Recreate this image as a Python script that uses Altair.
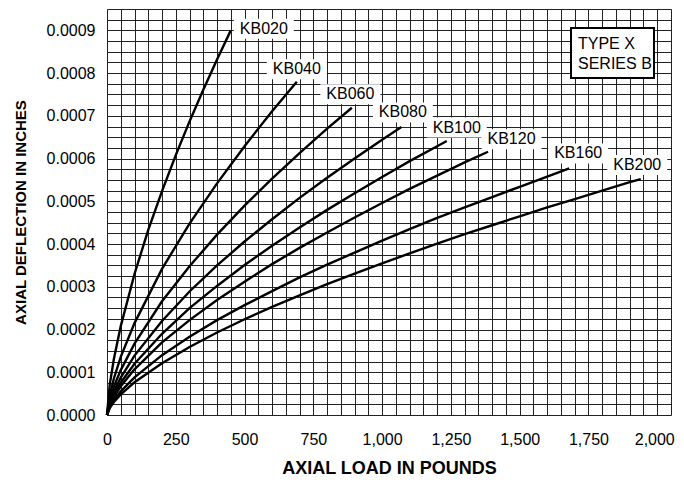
import altair as alt
import pandas as pd

# ---------------- data ----------------
series_names = ["KB020", "KB040", "KB060", "KB080", "KB100", "KB120", "KB160", "KB200"]

kb020_x = [0, 10, 25, 50, 100, 150, 200, 250, 300, 350, 400, 450]
kb020_y = [0, 0.0000711, 0.000131, 0.000208, 0.000330, 0.000433, 0.000524, 0.000608,
           0.000687, 0.000761, 0.000832, 0.000900]

kb040_x = [0, 10, 25, 50, 100, 200, 300, 400, 500, 600, 690]
kb040_y = [0, 0.0000464, 0.0000854, 0.000136, 0.000215, 0.000342, 0.000448, 0.000542,
           0.000629, 0.000711, 0.000780]

kb060_x = [0, 10, 25, 50, 100, 200, 300, 400, 500, 600, 700, 800, 890]
kb060_y = [0, 0.0000361, 0.0000664, 0.000105, 0.000167, 0.000266, 0.000348, 0.000422,
           0.000490, 0.000553, 0.000613, 0.000670, 0.000719]

kb080_x = [0, 10, 25, 50, 100, 200, 300, 400, 500, 600, 700, 800, 900, 1000, 1070]
kb080_y = [0, 0.0000299, 0.0000551, 0.0000874, 0.000139, 0.000220, 0.000289, 0.000350,
           0.000406, 0.000458, 0.000508, 0.000555, 0.000600, 0.000644, 0.000674]

kb100_x = [0, 10, 25, 50, 100, 200, 300, 400, 500, 600, 700, 800, 900, 1000, 1100, 1200, 1235]
kb100_y = [0, 0.0000258, 0.0000476, 0.0000756, 0.000120, 0.000190, 0.000250, 0.000302,
           0.000351, 0.000396, 0.000439, 0.000480, 0.000519, 0.000557, 0.000594, 0.000629,
           0.000641]

kb120_x = [0, 10, 25, 50, 100, 200, 300, 400, 500, 600, 700, 800, 900, 1000, 1100, 1200,
           1300, 1385]
kb120_y = [0, 0.0000230, 0.0000424, 0.0000673, 0.000107, 0.000170, 0.000222, 0.000269,
           0.000312, 0.000353, 0.000391, 0.000427, 0.000462, 0.000496, 0.000529, 0.000560,
           0.000591, 0.000616]

kb160_x = [0, 10, 25, 50, 100, 200, 300, 400, 500, 600, 700, 800, 900, 1000, 1100, 1200,
           1300, 1400, 1500, 1600, 1680]
kb160_y = [0, 0.0000189, 0.0000349, 0.0000554, 0.0000879, 0.000140, 0.000183, 0.000222,
           0.000257, 0.000290, 0.000322, 0.000352, 0.000380, 0.000408, 0.000435, 0.000461,
           0.000486, 0.000510, 0.000534, 0.000558, 0.000577]

kb200_x = [0, 10, 25, 50, 100, 200, 300, 400, 500, 600, 700, 800, 900, 1000, 1100, 1200,
           1300, 1400, 1500, 1600, 1700, 1800, 1900, 1940]
kb200_y = [0, 0.0000165, 0.0000304, 0.0000482, 0.0000765, 0.000121, 0.000159, 0.000193,
           0.000224, 0.000253, 0.000280, 0.000306, 0.000331, 0.000355, 0.000378, 0.000401,
           0.000423, 0.000444, 0.000465, 0.000486, 0.000505, 0.000525, 0.000545, 0.000552]

x_tick_labels = [0, 250, 500, 750, 1000, 1250, 1500, 1750, 2000]
y_tick_labels = [0.0, 0.0001, 0.0002, 0.0003, 0.0004, 0.0005, 0.0006, 0.0007, 0.0008, 0.0009]
box_lines = ["TYPE X", "SERIES B"]

# ---------------- layout / style ----------------
W, H = 564, 406
X_MAX, Y_MAX = 2050, 0.00095
PX_X = W / X_MAX
PX_Y = H / Y_MAX
FONT = "Liberation Sans"

# label centre offsets from the curve end, in pixels (dx right, dy down)
label_off = {
    "KB020": (33, -1.5), "KB040": (0, -12.5), "KB060": (-1.5, -13.5), "KB080": (1.5, -14.5),
    "KB100": (10, -13.5), "KB120": (23.5, -12.5), "KB160": (9, -15), "KB200": (-3.5, -14),
}

all_x = [kb020_x, kb040_x, kb060_x, kb080_x, kb100_x, kb120_x, kb160_x, kb200_x]
all_y = [kb020_y, kb040_y, kb060_y, kb080_y, kb100_y, kb120_y, kb160_y, kb200_y]

rows = []
for name, xs, ys in zip(series_names, all_x, all_y):
    for xv, yv in zip(xs, ys):
        rows.append({"series": name, "load": xv, "defl": yv})
df = pd.DataFrame(rows)

lab_rows = []
for name, xs, ys in zip(series_names, all_x, all_y):
    dx, dy = label_off[name]
    cx = xs[-1] + dx / PX_X
    cy = ys[-1] - dy / PX_Y
    lab_rows.append({
        "series": name, "load": cx, "defl": cy,
        "load2": cx + 30 / PX_X, "load1": cx - 30 / PX_X,
        "defl1": cy - 10 / PX_Y, "defl2": cy + 10 / PX_Y,
    })
labels = pd.DataFrame(lab_rows)

grid_x = [i * 50 for i in range(int(X_MAX / 50) + 1)]
grid_y = [round(i * 0.000025, 7) for i in range(int(round(Y_MAX / 0.000025)) + 1)]

x_scale = alt.Scale(domain=[0, X_MAX], nice=False, zero=False)
y_scale = alt.Scale(domain=[0, Y_MAX], nice=False, zero=False)

x_lab_expr = " || ".join("datum.value == %d" % v for v in x_tick_labels)
y_lab_expr = " || ".join("abs(datum.value - %g) < 1e-7" % v for v in y_tick_labels)

x_axis = alt.Axis(
    values=grid_x,
    labelExpr="(" + x_lab_expr + ") ? format(datum.value, ',') : ''",
    grid=True, gridColor="#222222", gridWidth=1, gridOpacity=1,
    ticks=False, domain=False, labelFlush=False, labelOverlap=False,
    labelFont=FONT, labelFontSize=16, labelColor="black", labelPadding=16,
    labelOffset={"condition": {"test": "datum.value == 2000", "value": -3}, "value": 0},
    title="AXIAL LOAD IN POUNDS", titleFont=FONT, titleFontSize=18, titleFontWeight="bold",
    titleColor="black", titleBaseline="alphabetic", titleY=58,
)
y_axis = alt.Axis(
    values=grid_y,
    labelExpr="(" + y_lab_expr + ") ? format(datum.value, '.4f') : ''",
    grid=True, gridColor="#222222", gridWidth=1, gridOpacity=1,
    ticks=False, domain=False, labelFlush=False, labelOverlap=False,
    labelFont=FONT, labelFontSize=16, labelColor="black", labelPadding=12,
    title="AXIAL DEFLECTION IN INCHES", titleFont=FONT, titleFontSize=15, titleFontWeight="bold",
    titleColor="black", titleBaseline="alphabetic", titleAngle=270, titleX=-82, titleY=203,
    titleAlign="center",
)

lines = alt.Chart(df).mark_line(color="black", strokeWidth=2.4).encode(
    x=alt.X("load:Q", scale=x_scale, axis=x_axis),
    y=alt.Y("defl:Q", scale=y_scale, axis=y_axis),
    detail="series:N",
)

boxes = alt.Chart(labels).mark_rect(fill="white").encode(
    x=alt.X("load1:Q", scale=x_scale, axis=x_axis), x2="load2:Q",
    y=alt.Y("defl1:Q", scale=y_scale, axis=y_axis), y2="defl2:Q",
)

texts = alt.Chart(labels).mark_text(
    font=FONT, fontSize=16, color="black", align="center", baseline="middle"
).encode(
    x=alt.X("load:Q", scale=x_scale, axis=x_axis),
    y=alt.Y("defl:Q", scale=y_scale, axis=y_axis),
    text="series:N",
)

one = alt.Data(values=[{"a": 1}])
type_box = alt.Chart(one).mark_rect(fill="white", stroke="black", strokeWidth=2).encode(
    x=alt.value(464), x2=alt.value(547), y=alt.value(19), y2=alt.value(69),
)
type_t1 = alt.Chart(one).mark_text(
    text=box_lines[0], font=FONT, fontSize=16, color="black", align="left", baseline="middle"
).encode(x=alt.value(471), y=alt.value(35))
type_t2 = alt.Chart(one).mark_text(
    text=box_lines[1], font=FONT, fontSize=16, color="black", align="left", baseline="middle"
).encode(x=alt.value(471), y=alt.value(55))

chart = alt.layer(lines, boxes, texts, type_box, type_t1, type_t2).properties(
    width=W, height=H,
    autosize=alt.AutoSizeParams(type="none"),
    padding={"left": 99, "top": 1, "right": 5, "bottom": 62},
).configure_view(
    stroke="black", strokeWidth=2.5, fill="white",
).configure(background="white")

chart.save("out.html", embed_options={"renderer": "svg", "actions": False})
